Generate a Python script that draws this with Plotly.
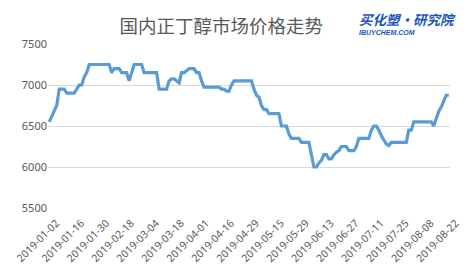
import pandas as pd
import plotly.graph_objects as go

# ---- data ----
holidays = ["2019-01-01", "2019-02-04", "2019-02-05", "2019-02-06", "2019-02-07", "2019-02-08",
            "2019-04-05", "2019-05-01", "2019-05-02", "2019-05-03", "2019-06-07"]
extra_workdays = ["2019-02-02", "2019-02-03", "2019-04-28", "2019-05-05"]

_days = pd.bdate_range("2019-01-02", "2019-08-22")
_days = _days[~_days.isin(pd.to_datetime(holidays))]
_days = _days.union(pd.to_datetime(extra_workdays))
dates = [d.strftime("%Y-%m-%d") for d in _days]

prices = [
    6550, 6620, 6680, 6750, 6950, 6950, 6950, 6900, 6900, 6900,
    6900, 6950, 7000, 7000, 7100, 7150, 7250, 7250, 7250, 7250,
    7250, 7250, 7250, 7250, 7250, 7150, 7200, 7200, 7200, 7150,
    7150, 7150, 7050, 7150, 7250, 7250, 7250, 7250, 7150, 7150,
    7150, 7150, 7150, 7150, 6950, 6950, 6950, 6950, 7050, 7075,
    7075, 7050, 7025, 7150, 7150, 7175, 7200, 7200, 7200, 7150,
    7150, 7050, 6975, 6975, 6975, 6975, 6975, 6975, 6975, 6950,
    6950, 6925, 6925, 7000, 7050, 7050, 7050, 7050, 7050, 7050,
    7050, 7050, 6950, 6875, 6850, 6750, 6700, 6700, 6650, 6650,
    6650, 6650, 6650, 6500, 6500, 6500, 6400, 6350, 6350, 6350,
    6350, 6300, 6300, 6300, 6300, 6150, 6000, 6000, 6050, 6080,
    6150, 6150, 6100, 6100, 6150, 6180, 6200, 6250, 6250, 6250,
    6200, 6200, 6200, 6250, 6350, 6350, 6350, 6350, 6350, 6450,
    6500, 6500, 6450, 6380, 6330, 6280, 6260, 6300, 6300, 6300,
    6300, 6300, 6300, 6300, 6450, 6450, 6550, 6550, 6550, 6550,
    6550, 6550, 6550, 6550, 6500, 6600, 6680, 6730, 6800, 6875,
    6875,
]

y_ticks = [5500, 6000, 6500, 7000, 7500]
x_ticks = dates[::10]

title_text = "国内正丁醇市场价格走势"
logo_main = "买化塑·研究院"
logo_sub = "IBUYCHEM.COM"

# ---- figure ----
fig = go.Figure()
fig.add_trace(go.Scatter(
    x=dates, y=prices, mode="lines",
    line=dict(color="#5B9BD5", width=3.2),
    hoverinfo="x+y",
))

fig.update_layout(
    width=471, height=274,
    margin=dict(l=48, r=9, t=44, b=64),
    paper_bgcolor="white", plot_bgcolor="white",
    showlegend=False,
    font=dict(family="Noto Sans, DejaVu Sans, sans-serif", size=11, color="#595959"),
    title=dict(text=title_text, x=0.47, xanchor="center", y=0.905, yanchor="middle",
               font=dict(family="Noto Sans CJK SC", size=18.5, color="#595959")),
    xaxis=dict(
        type="category", range=[-0.5, len(dates) - 0.5],
        tickmode="array", tickvals=x_ticks, ticktext=x_ticks,
        tickangle=-45, showgrid=False, zeroline=False, showline=False,
        ticks="", tickfont=dict(size=10.5, color="#595959"),
        ticklabelshift=7, ticklabelstandoff=6,
    ),
    yaxis=dict(
        range=[5500, 7500], tickvals=y_ticks, showgrid=True,
        gridcolor="#D9D9D9", gridwidth=1, zeroline=False, showline=False,
        ticks="", tickfont=dict(size=11, color="#595959"),
    ),
    annotations=[
        dict(text="<b><i>" + logo_main + "</i></b>", xref="paper", yref="paper",
             x=0.778, y=1.0, yshift=25, xshift=-3, xanchor="left", yanchor="middle", showarrow=False,
             borderpad=0, font=dict(family="Noto Sans CJK SC", size=13.5, color="#1A56B8")),
        dict(text="<b><i>" + logo_sub + "</i></b>", xref="paper", yref="paper",
             x=0.778, y=1.0, yshift=12, xshift=-3, xanchor="left", yanchor="middle", showarrow=False,
             borderpad=0, font=dict(family="Liberation Sans", size=7, color="#1A56B8")),
    ],
)

fig.write_html("out.html")
